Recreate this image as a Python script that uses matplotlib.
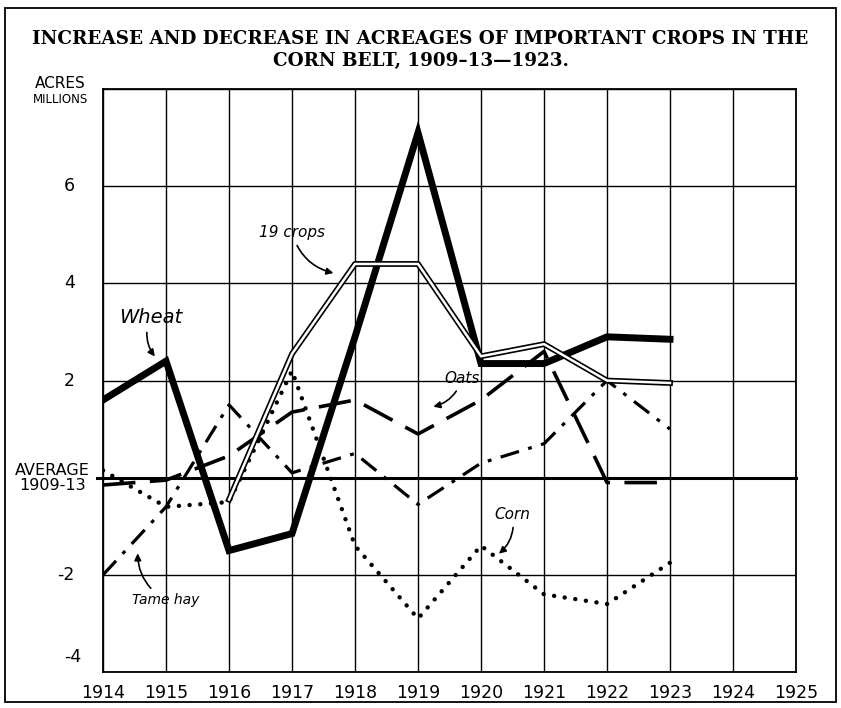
import numpy as np
import matplotlib.pyplot as plt
from matplotlib.patches import Rectangle

# increase (+) or decrease (-) from 1909-13 average, millions of acres
years = [1914, 1915, 1916, 1917, 1918, 1919, 1920, 1921, 1922, 1923]
wheat = [1.6, 2.4, -1.5, -1.15, 2.9, 7.1, 2.35, 2.35, 2.9, 2.85]
crops19_years = [1916, 1917, 1918, 1919, 1920, 1921, 1922, 1923]
crops19 = [-0.45, 2.55, 4.4, 4.4, 2.5, 2.75, 2.0, 1.95]
oats = [-0.15, -0.05, 0.45, 1.35, 1.6, 0.9, 1.6, 2.6, -0.1, -0.1]
tame_hay = [-2.0, -0.6, 1.5, 0.1, 0.5, -0.55, 0.3, 0.7, 2.0, 1.0]
corn = [0.15, -0.6, -0.5, 2.2, -1.4, -2.9, -1.4, -2.4, -2.6, -1.75]

x_ticks = list(range(1914, 1926))
y_ticks = [-4, -2, 2, 4, 6]

fig = plt.figure(figsize=(8.41, 7.08), dpi=100)
ax = fig.add_axes([0.1225, 0.0508, 0.824, 0.8234])

# figure border
fig.patches.append(Rectangle((0.006, 0.008), 0.988, 0.98, transform=fig.transFigure,
                             fill=False, lw=1.3, ec='black'))

ax.set_xlim(1914, 1925)
ax.set_ylim(-4, 8)
for s in ax.spines.values():
    s.set_linewidth(1.3)
ax.set_xticks(x_ticks)
ax.set_yticks([-4, -2, 0, 2, 4, 6, 8])
ax.grid(True, color='black', lw=1.0)
ax.tick_params(length=0, labelleft=False, labelbottom=False)

# heavy average line
ax.plot([1913.9, 1925], [0, 0], color='black', lw=2.2, clip_on=False, zorder=2)

lab = dict(family='DejaVu Sans', fontsize=12.5, color='black')
for t in x_ticks:
    ax.text(t, -4.25, str(t), ha='center', va='top', **lab)
for v in y_ticks:
    dy = 0.3 if v == -4 else 0
    dx = -0.35 if v == -4 else -0.45
    ax.text(1914 + dx, v + dy, str(v), ha='right', va='center', **lab)
ax.text(1913.2, 0, 'AVERAGE\n1909-13', ha='center', va='center', linespacing=1.0,
        family='DejaVu Sans', fontsize=11.5)
fig.text(0.072, 0.872, 'ACRES', ha='center', va='bottom', family='DejaVu Sans', fontsize=11)
fig.text(0.072, 0.85, 'MILLIONS', ha='center', va='bottom', family='DejaVu Sans', fontsize=8.5)

# title
fig.text(0.5, 0.958, 'INCREASE AND DECREASE IN ACREAGES OF IMPORTANT CROPS IN THE\n'
         'CORN BELT, 1909\u201313\u20141923.', ha='center', va='top', family='DejaVu Serif',
         fontweight='bold', fontsize=13.2, linespacing=1.3)

# series
ax.plot(years, wheat, color='black', lw=5, solid_joinstyle='miter', zorder=5)
ax.plot(crops19_years, crops19, color='black', lw=4.2, zorder=6)
ax.plot(crops19_years, crops19, color='white', lw=1.8, zorder=7)
ax.plot(years, oats, color='black', lw=2.6, dashes=(9, 4), zorder=4)
ax.plot(years, tame_hay, color='black', lw=2.3, dashes=(6, 3, 1.2, 3), zorder=4)
ax.plot(years, corn, color='black', lw=3.2, dashes=(0.01, 2.4), dash_capstyle='round', zorder=4)

txt = dict(family='DejaVu Sans', style='italic', color='black')
arr = dict(arrowstyle='-|>', color='black', lw=1.2, mutation_scale=10)
ax.annotate('Wheat', xy=(1914.85, 2.45), xytext=(1914.75, 3.3), ha='center', va='center',
            fontsize=14, arrowprops=dict(connectionstyle='arc3,rad=0.3', **arr), **txt)
ax.annotate('19 crops', xy=(1917.7, 4.2), xytext=(1917.0, 4.95), ha='center', fontsize=11,
            arrowprops=dict(connectionstyle='arc3,rad=0.3', **arr), **txt)
ax.annotate('Oats', xy=(1919.2, 1.45), xytext=(1919.7, 1.95), ha='center', fontsize=11,
            arrowprops=dict(connectionstyle='arc3,rad=-0.3', **arr), **txt)
ax.annotate('Corn', xy=(1920.25, -1.6), xytext=(1920.5, -0.85), ha='center', fontsize=11,
            arrowprops=dict(connectionstyle='arc3,rad=-0.3', **arr), **txt)
ax.annotate('Tame hay', xy=(1914.55, -1.5), xytext=(1915.0, -2.6), ha='center', fontsize=10,
            arrowprops=dict(connectionstyle='arc3,rad=-0.3', **arr), **txt)

fig.savefig('out.png', dpi=100)
